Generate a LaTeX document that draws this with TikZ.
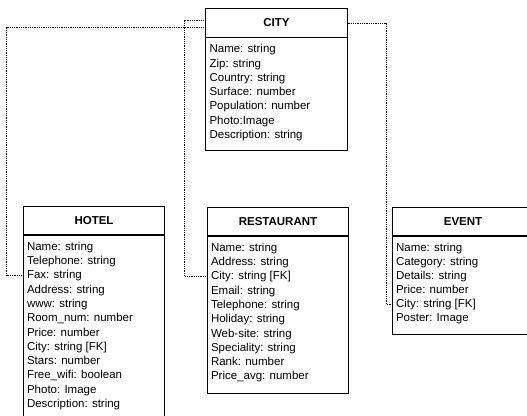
\documentclass[tikz,border=0pt]{standalone}
\usepackage{fontspec}
\setmainfont{Liberation Sans}
\usetikzlibrary{calc}
\begin{document}
\begin{tikzpicture}[x=1pt,y=-1pt,
  hdr/.style={draw, line width=0.8pt, minimum width=141.5pt, inner sep=0pt,
    font=\fontsize{11.5}{13}\selectfont\bfseries},
  bodybox/.style={draw, line width=0.8pt, minimum width=141.5pt, inner sep=0pt, anchor=north},
  row/.style={anchor=base west, inner sep=0pt, text height=9pt, text depth=2pt,
    font=\fontsize{11.5}{13}\selectfont},
  conn/.style={densely dotted, line width=0.8pt}]
\useasboundingbox (0,0) rectangle (527,415);
\clip (0,0) rectangle (527,415);
\fill[white] (0,0) rectangle (527,415);

% CITY
\node[hdr, minimum height=29pt] (cityH) at (276.5,22.5) {CITY};
\node[bodybox, minimum height=113pt] (cityB) at (cityH.south) {};
\foreach \t [count=\i] in {Name: string, Zip: string, Country: string, Surface: number,
  Population: number, Photo:Image, Description: string}
  \node[row] (city-\i) at ($(cityH.south west)+(4,{15.3+14.3*(\i-1)})$) {\t};

% HOTEL
\node[hdr, minimum height=28.5pt] (hotelH) at (94,220.25) {HOTEL};
\node[bodybox, minimum height=200pt] (hotelB) at (hotelH.south) {};
\foreach \t [count=\i] in {Name: string, Telephone: string, Fax: string, Address: string,
  www: string, Room\_num: number, Price: number, City: string [FK], Stars: number,
  Free\_wifi: boolean, Photo: Image, Description: string}
  \node[row] (hotel-\i) at ($(hotelH.south west)+(4,{15.3+14.3*(\i-1)})$) {\t};

% RESTAURANT
\node[hdr, minimum height=28.5pt] (restH) at (278,221.25) {RESTAURANT};
\node[bodybox, minimum height=157pt] (restB) at (restH.south) {};
\foreach \t [count=\i] in {Name: string, Address: string, City: string [FK], Email: string,
  Telephone: string, Holiday: string, Web-site: string, Speciality: string, Rank: number,
  Price\_avg: number}
  \node[row] (rest-\i) at ($(restH.south west)+(4,{15.3+14.3*(\i-1)})$) {\t};

% EVENT
\node[hdr, minimum height=28.5pt] (eventH) at (463,221.5) {EVENT};
\node[bodybox, minimum height=98pt] (eventB) at (eventH.south) {};
\foreach \t [count=\i] in {Name: string, Category: string, Details: string, Price: number,
  City: string [FK], Poster: Image}
  \node[row] (event-\i) at ($(eventH.south west)+(4,{15.3+14.1*(\i-1)})$) {\t};

% connectors
\draw[conn] ([yshift=-4.5pt]cityH.west) -- ++(-198.5,0) |- (hotelB.west |- hotel-3.west);
\draw[conn] ([yshift=2.5pt]cityH.west) -- ++(-20.5,0) |- (restB.west |- rest-3.west);
\draw[conn] ([yshift=-0.5pt]cityH.east) -- ++(38.5,0) |- (eventB.west |- event-5.west);
\end{tikzpicture}
\end{document}
